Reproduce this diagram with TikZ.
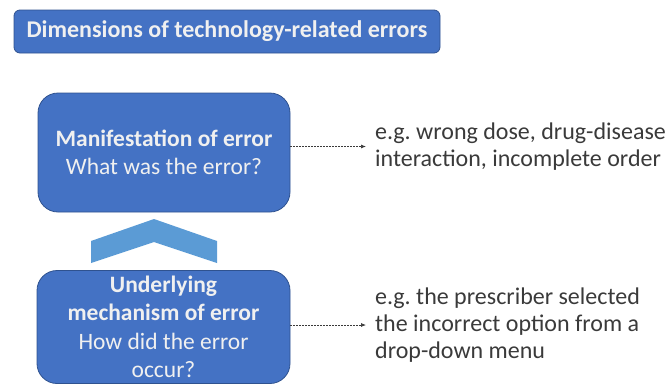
\documentclass[tikz,border=0pt]{standalone}
\usepackage{fontspec}
\setmainfont{Carlito}
\usetikzlibrary{positioning,arrows.meta}
\frenchspacing

\definecolor{boxblue}{HTML}{4472C4}
\definecolor{boxline}{HTML}{2F528F}
\definecolor{chevblue}{HTML}{5B9BD5}
\definecolor{txtgrey}{HTML}{3A3A3A}

\tikzset{
  dimbox/.style={draw=boxline, fill=boxblue, rounded corners=20pt, line width=0.8pt,
                 text=white!94!black, align=center, font=\fontsize{23.5}{28.5}\selectfont},
  egtext/.style={text=txtgrey, align=left, anchor=west, inner sep=0pt,
                 font=\fontsize{24}{27}\selectfont},
  egarrow/.style={-{Latex[length=5pt,width=4pt]}, dash pattern=on 2pt off 1pt, line width=0.7pt, txtgrey}
}

\begin{document}
\begin{tikzpicture}[x=1pt,y=-1pt]
                \useasboundingbox (0,0) rectangle (669,384);
                \begin{scope}
                \clip (0,0) rectangle (669,384);
                \node[dimbox, rounded corners=6pt, minimum width=426pt, minimum height=43pt,
                      font=\fontsize{24}{28}\selectfont\bfseries] (title) at (227,31.5) {Dimensions of technology-related errors};
                \node[dimbox, minimum width=252pt, minimum height=119pt] (manifest) at (164,152.5)
                      {\textbf{Manifestation of error}\\What was the error?};
                \node[dimbox, minimum width=253pt, minimum height=113pt] (mechanism) at (163.5,327)
                      {\textbf{Underlying}\\\textbf{mechanism of error}\\How did the error\\occur?};
                \end{scope}
                % chevron between the two boxes
                \fill[chevblue] (91,241) -- (154,219) -- (217,241) -- (217,263) -- (154,242) -- (91,263) -- cycle;
                \node[egtext] (manifestex) at (375,146.5) {e.g. wrong dose, drug-disease\\interaction, incomplete order};
                \node[egtext] (mechanismex) at (375,325) {e.g. the prescriber selected\\the incorrect option from a\\drop-down menu};
                \draw[egarrow] (manifest.east |- manifestex.west) -- ([xshift=-9pt]manifestex.west);
                \draw[egarrow] (mechanism.east |- mechanismex.west) -- ([xshift=-9pt]mechanismex.west);
            \end{tikzpicture}
\end{document}
